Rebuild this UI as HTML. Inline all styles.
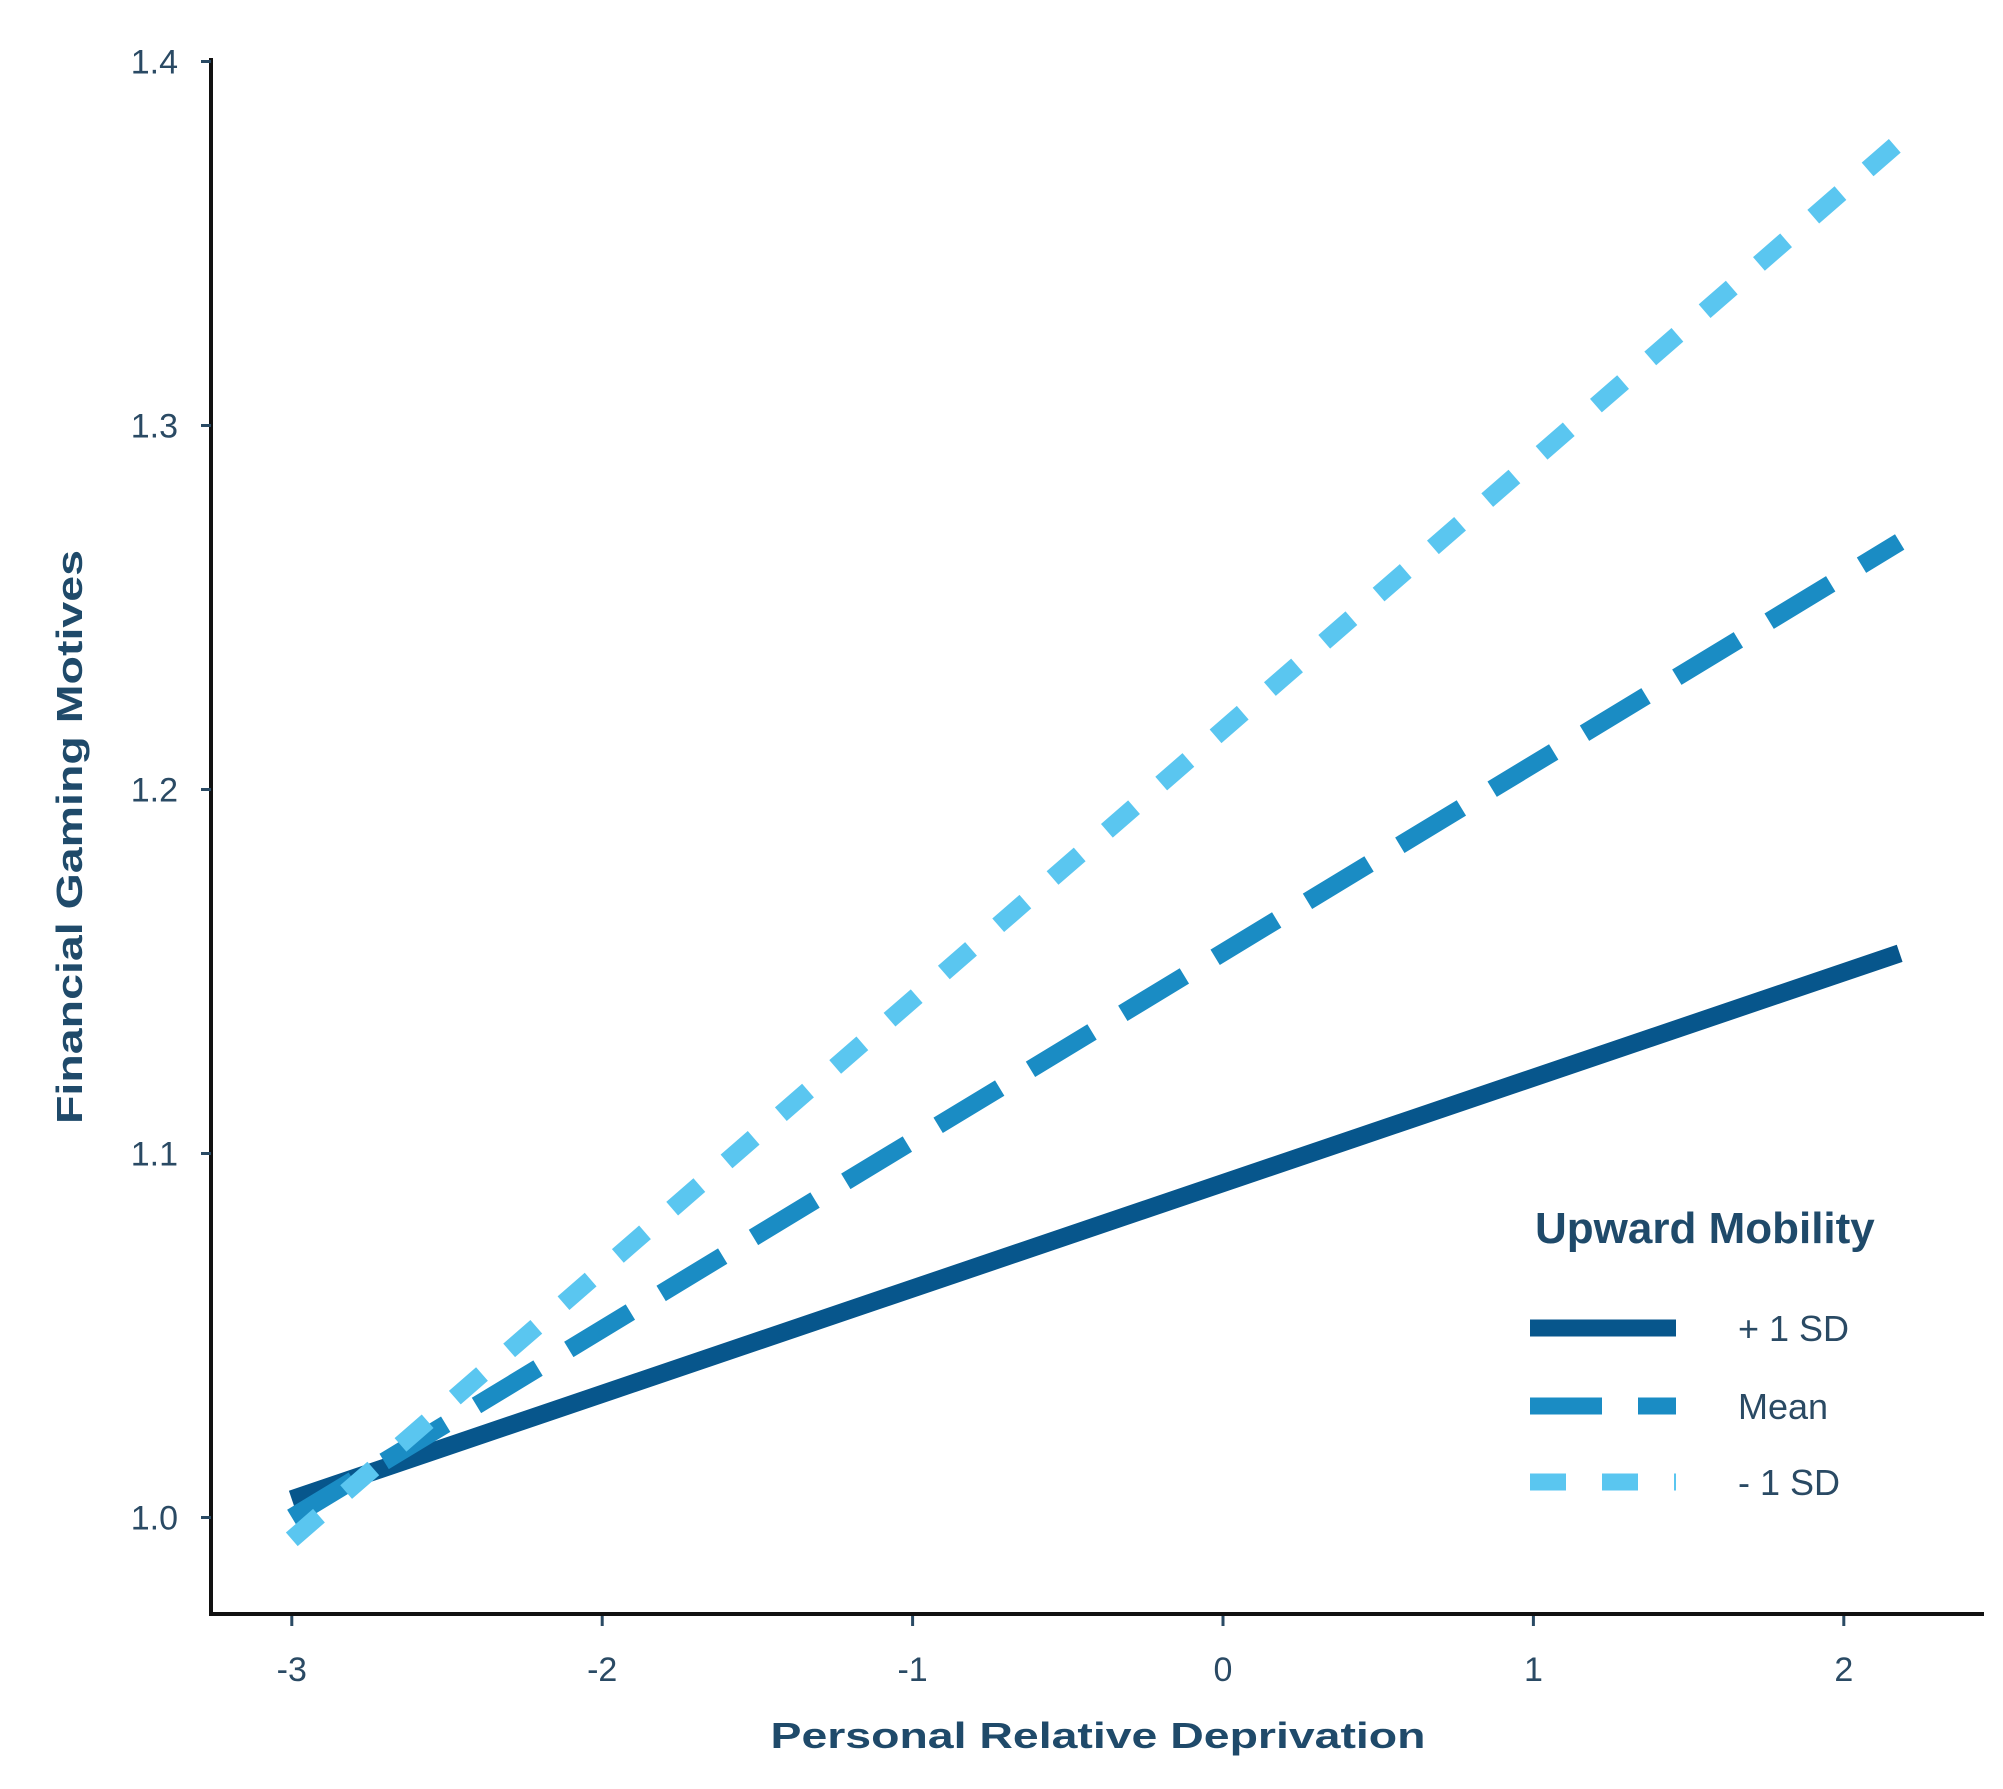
<!DOCTYPE html>
<html><head><meta charset="utf-8"><style>
html,body{margin:0;padding:0;background:#fff;}
svg{display:block;font-family:"Liberation Sans",Arial,sans-serif;}
</style></head><body>
<svg id="chart" width="2003" height="1789" viewBox="0 0 2003 1789">
<g id="axes"></g>
<g id="series"></g>
<text x="1098" y="1748" text-anchor="middle" font-size="36" font-weight="bold" fill="#1f4a6a" textLength="655" lengthAdjust="spacingAndGlyphs">Personal Relative Deprivation</text>
<text transform="translate(82,837) rotate(-90)" text-anchor="middle" font-size="36" font-weight="bold" fill="#1f4a6a" textLength="574" lengthAdjust="spacingAndGlyphs">Financial Gaming Motives</text>
<g>
<text x="1535" y="1243" font-size="44" font-weight="bold" fill="#1f4a6a">Upward Mobility</text>
<g id="legend-entries"></g>
</g>
</svg>
<script>
const xTicks = [-3,-2,-1,0,1,2];
const yTicks = [1.0,1.1,1.2,1.3,1.4];
const yTickLabels = ["1.0","1.1","1.2","1.3","1.4"];
const seriesNames = ["+ 1 SD","Mean","- 1 SD"];
const xStart = [-3,-3,-3];
const xEnd = [2.18,2.18,2.18];
const yStart = [1.005,1.0,0.994];
const yEnd = [1.155,1.268,1.378];

const NS="http://www.w3.org/2000/svg";
const sx = v => 1223 + (v-0)*310.4;
const sy = v => 1517.5 - (v-1.0)*3640;
const colors=["#07568c","#1a8cc4","#5ac6f0"];
const dashes=["none","72 36","36 36"];
const axes=document.getElementById('axes');
function mk(tag,attrs,parent){const e=document.createElementNS(NS,tag);for(const k in attrs)e.setAttribute(k,attrs[k]);parent.appendChild(e);return e;}
let yl=mk('line',{x1:211,y1:58,x2:211,y2:1616,stroke:'#111',"stroke-width":4},axes);


let xl=mk('line',{x1:209,y1:1614,x2:1984,y2:1614,stroke:'#111',"stroke-width":4},axes);


xTicks.forEach(v=>{
  let t=mk('line',{x1:sx(v),y1:1616,x2:sx(v),y2:1626,stroke:'#2a4a64',"stroke-width":3},axes);
  
  
  let l=mk('text',{x:sx(v),y:1681,"text-anchor":"middle","font-size":34,fill:'#2a4a64'},axes);
  l.textContent=String(v);
  
  
});
yTicks.forEach((v,i)=>{
  let t=mk('line',{x1:201,y1:sy(v),x2:211,y2:sy(v),stroke:'#2a4a64',"stroke-width":3},axes);
  
  
  let l=mk('text',{x:178,y:sy(v)+12,"text-anchor":"end","font-size":34,fill:'#2a4a64'},axes);
  l.textContent=yTickLabels[i];
  
  
});
const sg=document.getElementById('series');
seriesNames.forEach((n,i)=>{
  let a={x1:sx(xStart[i]),y1:sy(yStart[i]),x2:sx(xEnd[i]),y2:sy(yEnd[i]),stroke:colors[i],"stroke-width":18,"stroke-linecap":"butt"};
  if(dashes[i]!=="none")a["stroke-dasharray"]=dashes[i];
  let l=mk('line',a,sg);
  
  
});
const lg=document.getElementById('legend-entries');
const ly=[1328,1406,1482];
seriesNames.forEach((n,i)=>{
  let a={x1:1530,y1:ly[i],x2:1676,y2:ly[i],stroke:colors[i],"stroke-width":17};
  if(dashes[i]!=="none")a["stroke-dasharray"]=dashes[i];
  let k=mk('line',a,lg);
  
  
  let t=mk('text',{x:1738,y:ly[i]+13,"font-size":36,fill:'#2a4a64'},lg);
  t.textContent=n;
  
  
});
</script>
</body></html>
